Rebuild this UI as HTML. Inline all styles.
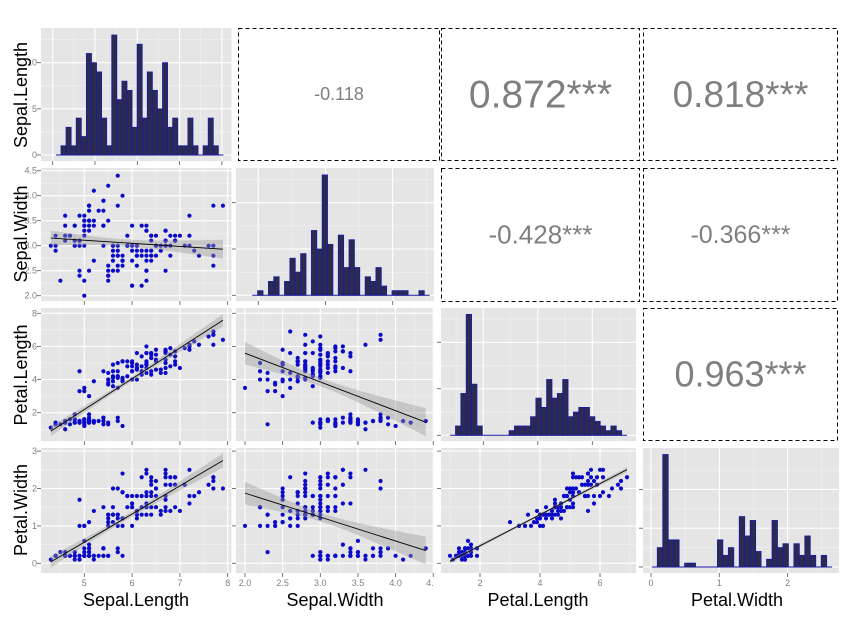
<!DOCTYPE html>
<html><head><meta charset="utf-8">
<style>
html,body{margin:0;padding:0;background:#fff;}
svg{display:block;font-family:"Liberation Sans",Arial,sans-serif;}
</style></head>
<body>
<svg id="s" width="868" height="617" viewBox="0 0 868 617" xmlns="http://www.w3.org/2000/svg"></svg>
<script>
const raw="5.1,3.5,1.4,0.2;4.9,3.0,1.4,0.2;4.7,3.2,1.3,0.2;4.6,3.1,1.5,0.2;5.0,3.6,1.4,0.2;5.4,3.9,1.7,0.4;4.6,3.4,1.4,0.3;5.0,3.4,1.5,0.2;4.4,2.9,1.4,0.2;4.9,3.1,1.5,0.1;5.4,3.7,1.5,0.2;4.8,3.4,1.6,0.2;4.8,3.0,1.4,0.1;4.3,3.0,1.1,0.1;5.8,4.0,1.2,0.2;5.7,4.4,1.5,0.4;5.4,3.9,1.3,0.4;5.1,3.5,1.4,0.3;5.7,3.8,1.7,0.3;5.1,3.8,1.5,0.3;5.4,3.4,1.7,0.2;5.1,3.7,1.5,0.4;4.6,3.6,1.0,0.2;5.1,3.3,1.7,0.5;4.8,3.4,1.9,0.2;5.0,3.0,1.6,0.2;5.0,3.4,1.6,0.4;5.2,3.5,1.5,0.2;5.2,3.4,1.4,0.2;4.7,3.2,1.6,0.2;4.8,3.1,1.6,0.2;5.4,3.4,1.5,0.4;5.2,4.1,1.5,0.1;5.5,4.2,1.4,0.2;4.9,3.1,1.5,0.2;5.0,3.2,1.2,0.2;5.5,3.5,1.3,0.2;4.9,3.6,1.4,0.1;4.4,3.0,1.3,0.2;5.1,3.4,1.5,0.2;5.0,3.5,1.3,0.3;4.5,2.3,1.3,0.3;4.4,3.2,1.3,0.2;5.0,3.5,1.6,0.6;5.1,3.8,1.9,0.4;4.8,3.0,1.4,0.3;5.1,3.8,1.6,0.2;4.6,3.2,1.4,0.2;5.3,3.7,1.5,0.2;5.0,3.3,1.4,0.2;7.0,3.2,4.7,1.4;6.4,3.2,4.5,1.5;6.9,3.1,4.9,1.5;5.5,2.3,4.0,1.3;6.5,2.8,4.6,1.5;5.7,2.8,4.5,1.3;6.3,3.3,4.7,1.6;4.9,2.4,3.3,1.0;6.6,2.9,4.6,1.3;5.2,2.7,3.9,1.4;5.0,2.0,3.5,1.0;5.9,3.0,4.2,1.5;6.0,2.2,4.0,1.0;6.1,2.9,4.7,1.4;5.6,2.9,3.6,1.3;6.7,3.1,4.4,1.4;5.6,3.0,4.5,1.5;5.8,2.7,4.1,1.0;6.2,2.2,4.5,1.5;5.6,2.5,3.9,1.1;5.9,3.2,4.8,1.8;6.1,2.8,4.0,1.3;6.3,2.5,4.9,1.5;6.1,2.8,4.7,1.2;6.4,2.9,4.3,1.3;6.6,3.0,4.4,1.4;6.8,2.8,4.8,1.4;6.7,3.0,5.0,1.7;6.0,2.9,4.5,1.5;5.7,2.6,3.5,1.0;5.5,2.4,3.8,1.1;5.5,2.4,3.7,1.0;5.8,2.7,3.9,1.2;6.0,2.7,5.1,1.6;5.4,3.0,4.5,1.5;6.0,3.4,4.5,1.6;6.7,3.1,4.7,1.5;6.3,2.3,4.4,1.3;5.6,3.0,4.1,1.3;5.5,2.5,4.0,1.3;5.5,2.6,4.4,1.2;6.1,3.0,4.6,1.4;5.8,2.6,4.0,1.2;5.0,2.3,3.3,1.0;5.6,2.7,4.2,1.3;5.7,3.0,4.2,1.2;5.7,2.9,4.2,1.3;6.2,2.9,4.3,1.3;5.1,2.5,3.0,1.1;5.7,2.8,4.1,1.3;6.3,3.3,6.0,2.5;5.8,2.7,5.1,1.9;7.1,3.0,5.9,2.1;6.3,2.9,5.6,1.8;6.5,3.0,5.8,2.2;7.6,3.0,6.6,2.1;4.9,2.5,4.5,1.7;7.3,2.9,6.3,1.8;6.7,2.5,5.8,1.8;7.2,3.6,6.1,2.5;6.5,3.2,5.1,2.0;6.4,2.7,5.3,1.9;6.8,3.0,5.5,2.1;5.7,2.5,5.0,2.0;5.8,2.8,5.1,2.4;6.4,3.2,5.3,2.3;6.5,3.0,5.5,1.8;7.7,3.8,6.7,2.2;7.7,2.6,6.9,2.3;6.0,2.2,5.0,1.5;6.9,3.2,5.7,2.3;5.6,2.8,4.9,2.0;7.7,2.8,6.7,2.0;6.3,2.7,4.9,1.8;6.7,3.3,5.7,2.1;7.2,3.2,6.0,1.8;6.2,2.8,4.8,1.8;6.1,3.0,4.9,1.8;6.4,2.8,5.6,2.1;7.2,3.0,5.8,1.6;7.4,2.8,6.1,1.9;7.9,3.8,6.4,2.0;6.4,2.8,5.6,2.2;6.3,2.8,5.1,1.5;6.1,2.6,5.6,1.4;7.7,3.0,6.1,2.3;6.3,3.4,5.6,2.4;6.4,3.1,5.5,1.8;6.0,3.0,4.8,1.8;6.9,3.1,5.4,2.1;6.7,3.1,5.6,2.4;6.9,3.1,5.1,2.3;5.8,2.7,5.1,1.9;6.8,3.2,5.9,2.3;6.7,3.3,5.7,2.5;6.7,3.0,5.2,2.3;6.3,2.5,5.0,1.9;6.5,3.0,5.2,2.0;6.2,3.4,5.4,2.3;5.9,3.0,5.1,1.8";
const D=raw.split(";").map(r=>r.split(",").map(Number));
const col=i=>D.map(r=>r[i]);
const cols=[[41,231.5],[236,434],[441,636],[643,839]];
const rows=[[28,161],[168,301],[308,441],[448,573]];
const xm=[v=>84.3+(v-5)*47.8, v=>245+(v-2)*75.3, v=>480+(v-2)*30, null];
const xb=[[5,6,7,8],[2,2.5,3,3.5,4,4.5],[2,4,6],null];
const ym=[null, v=>295.7-(v-2)*50, v=>412.7-(v-2)*16.57, v=>563.3-v*37.4];
const yb=[null,[2,2.5,3,3.5,4,4.5],[2,4,6,8],[0,1,2,3]];
const H=[
 {xm:v=>52.7+(v-4)*42.3, xb:[4,5,6,7,8], start:4.196, y0:155, pc:9.23, yb:[0,5,10]},
 {xm:v=>258.3+(v-2)*67.2, xb:[2,3,4], start:1.99, y0:295.3, pc:4.63, yb:[0,10,20]},
 {xm:v=>483.3+(v-2)*27.25, xb:[2,4,6], start:0.98, y0:435.3, pc:4.65, yb:[0,10,20]},
 {xm:v=>651+v*68.3, xb:[0,1,2], start:0.092, y0:567, pc:3.88, yb:[0,10,20]}
];
let out="";
const minors=b=>{let s=b[1]-b[0],m=[];m.push(b[0]-s/2);for(let i=0;i<b.length;i++)m.push(b[i]+s/2);return m;};
function grid(c,r,fx,bx,fy,byv){
  const [x0,x1]=cols[c],[y0,y1]=rows[r];
  let g=`<rect x="${x0}" y="${y0}" width="${x1-x0}" height="${y1-y0}" fill="#e5e5e5"/>`;
  for(const v of minors(bx)){const x=fx(v);if(x>x0&&x<x1)g+=`<line x1="${x}" x2="${x}" y1="${y0}" y2="${y1}" stroke="#f2f2f2" stroke-width="0.6"/>`;}
  for(const v of minors(byv)){const y=fy(v);if(y>y0&&y<y1)g+=`<line x1="${x0}" x2="${x1}" y1="${y}" y2="${y}" stroke="#f2f2f2" stroke-width="0.6"/>`;}
  for(const v of bx){const x=fx(v);if(x>x0&&x<x1)g+=`<line x1="${x}" x2="${x}" y1="${y0}" y2="${y1}" stroke="#fff" stroke-width="1.1"/>`;}
  for(const v of byv){const y=fy(v);if(y>y0&&y<y1)g+=`<line x1="${x0}" x2="${x1}" y1="${y}" y2="${y}" stroke="#fff" stroke-width="1.1"/>`;}
  for(const v of bx){const x=fx(v);if(x>=x0-1&&x<=x1+1)g+=`<line x1="${x}" x2="${x}" y1="${y1}" y2="${y1+4}" stroke="#555" stroke-width="0.8"/>`;}
  for(const v of byv){const y=fy(v);if(y>=y0-1&&y<=y1+1)g+=`<line x1="${x0-4}" x2="${x0}" y1="${y}" y2="${y}" stroke="#555" stroke-width="0.8"/>`;}
  return g;
}
let cid=0;
function clip(c,r){const [x0,x1]=cols[c],[y0,y1]=rows[r];cid++;out+=`<clipPath id="c${cid}"><rect x="${x0}" y="${y0}" width="${x1-x0}" height="${y1-y0}"/></clipPath>`;return `c${cid}`;}
for(let i=0;i<4;i++){
  const h=H[i],vals=col(i),mn=Math.min(...vals),mx=Math.max(...vals),bw=(mx-mn)/30;
  const fy=c=>h.y0-c*h.pc;
  out+=grid(i,i,h.xm,h.xb,fy,h.yb);
  const cnt={};for(const v of vals){const k=Math.floor((v-h.start)/bw+1e-9);cnt[k]=(cnt[k]||0)+1;}
  const id=clip(i,i);out+=`<g clip-path="url(#${id})">`;
  const kmax=Math.floor((mx-h.start)/bw+1e-9);
  out+=`<line x1="${h.xm(h.start-bw)}" x2="${h.xm(h.start+(kmax+2)*bw)}" y1="${h.y0}" y2="${h.y0}" stroke="#1a1aa8" stroke-width="1"/>`;
  for(const k in cnt){const a=h.xm(h.start+k*bw),b=h.xm(h.start+(+k+1)*bw);
    out+=`<rect x="${a}" y="${fy(cnt[k])}" width="${b-a}" height="${cnt[k]*h.pc}" fill="#2b2b50" stroke="#1a1aa8" stroke-width="0.8"/>`;}
  out+=`</g>`;
}
for(let r=1;r<4;r++)for(let c=0;c<r;c++){
  out+=grid(c,r,xm[c],xb[c],ym[r],yb[r]);
  const X=col(c),Y=col(r),n=X.length;
  const mx=X.reduce((a,b)=>a+b)/n,my=Y.reduce((a,b)=>a+b)/n;
  let sxx=0,sxy=0;for(let i=0;i<n;i++){sxx+=(X[i]-mx)**2;sxy+=(X[i]-mx)*(Y[i]-my);}
  const b=sxy/sxx,a=my-b*mx;let sse=0;for(let i=0;i<n;i++)sse+=(Y[i]-a-b*X[i])**2;
  const s=Math.sqrt(sse/(n-2)),t=1.976;
  const lo=Math.min(...X),hi=Math.max(...X);
  let up=[],dn=[];for(let k=0;k<=40;k++){const x=lo+(hi-lo)*k/40,f=a+b*x,se=t*s*Math.sqrt(1/n+(x-mx)**2/sxx);
    up.push(`${xm[c](x).toFixed(2)},${ym[r](f+se).toFixed(2)}`);dn.unshift(`${xm[c](x).toFixed(2)},${ym[r](f-se).toFixed(2)}`);}
  const id=clip(c,r);out+=`<g clip-path="url(#${id})">`;
  for(let i=0;i<n;i++)out+=`<circle cx="${xm[c](X[i]).toFixed(2)}" cy="${ym[r](Y[i]).toFixed(2)}" r="2.1" fill="#0a0ac8"/>`;
  out+=`<polygon points="${up.concat(dn).join(" ")}" fill="#999" fill-opacity="0.4"/>`;
  out+=`<line x1="${xm[c](lo)}" y1="${ym[r](a+b*lo)}" x2="${xm[c](hi)}" y2="${ym[r](a+b*hi)}" stroke="#000" stroke-width="0.9"/>`;
  out+=`</g>`;
}
const boxes=[[238,440,28,161,"-0.118",18],[441,640,28,161,"0.872***",39],[643,838,28,161,"0.818***",37],
 [441,640,168,302,"-0.428***",26],[643,838,168,302,"-0.366***",25],[643,838,308,441,"0.963***",36]];
for(const [x0,x1,y0,y1,t,fs] of boxes){
  out+=`<rect x="${x0+0.5}" y="${y0+0.5}" width="${x1-x0-1}" height="${y1-y0-1}" fill="none" stroke="#000" stroke-width="1" stroke-dasharray="4,3"/>`;
  out+=`<text x="${(x0+x1)/2}" y="${(y0+y1)/2+fs*0.36-1}" font-size="${fs}" fill="#7f7f7f" text-anchor="middle">${t}</text>`;
}
const lab=(x,y,t,anchor)=>`<text x="${x}" y="${y}" font-size="9" fill="#808080" text-anchor="${anchor}">${t}</text>`;
for(const v of [0,5,10])out+=lab(37,H[0].y0-v*H[0].pc+3,v,"end");
for(const v of yb[1])out+=lab(37,ym[1](v)+3,v.toFixed(1),"end");
for(const v of yb[2])out+=lab(37,ym[2](v)+3,v,"end");
for(const v of yb[3])out+=lab(37,ym[3](v)+3,v,"end");
for(const v of xb[0])out+=lab(xm[0](v),586,v,"middle");
for(const v of [2,2.5,3,3.5,4])out+=lab(xm[1](v),586,v.toFixed(1),"middle");
out+=lab(430,586,"4.","middle");
for(const v of xb[2])out+=lab(xm[2](v),586,v,"middle");
for(const v of H[3].xb)out+=lab(H[3].xm(v),586,v,"middle");
const xt=[["Sepal.Length",136],["Sepal.Width",335],["Petal.Length",538],["Petal.Width",737]];
for(const [t,x] of xt)out+=`<text x="${x}" y="606" font-size="18" fill="#000" text-anchor="middle">${t}</text>`;
const yt=[["Sepal.Length",95],["Sepal.Width",234],["Petal.Length",375],["Petal.Width",510]];
for(const [t,y] of yt)out+=`<text x="27" y="${y}" font-size="18" fill="#000" text-anchor="middle" transform="rotate(-90 27 ${y})">${t}</text>`;
document.getElementById("s").innerHTML=out;
</script>
</body></html>
